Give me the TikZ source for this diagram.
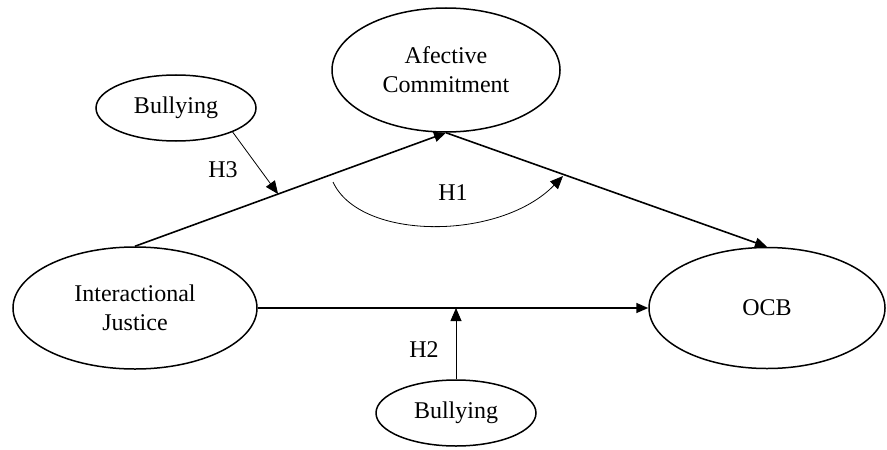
\documentclass[tikz,border=0pt]{standalone}
\usepackage{fontspec}
\setmainfont{Liberation Serif}
\usetikzlibrary{shapes.geometric,arrows.meta,calc}
\begin{document}
\begin{tikzpicture}[x=0.5pt,y=-0.5pt,
  construct/.style={ellipse,draw,line width=0.75pt,inner sep=0pt,align=center,font=\fontsize{12}{14.5}\selectfont},
  mainarrow/.style={line width=0.8pt,-{Triangle[length=6pt,width=5pt]}},
  modarrow/.style={line width=0.4pt,-{Triangle[length=6.5pt,width=5.5pt]}},
  hlabel/.style={font=\fontsize{12}{14}\selectfont}]
\useasboundingbox (0,0) rectangle (887,449);
\node[construct,minimum width=114pt,minimum height=62pt] (ac) at (446,70) {Afective\\Commitment};
\node[construct,minimum width=80pt,minimum height=33pt] (b1) at (176,108) {Bullying};
\node[construct,minimum width=122pt,minimum height=61pt] (ij) at (135,308) {Interactional\\Justice};
\node[construct,minimum width=118pt,minimum height=60.5pt] (ocb) at (767,308) {OCB};
\node[construct,minimum width=80pt,minimum height=33pt] (b2) at (456,413) {Bullying};
\draw[mainarrow] (ij.north) -- (ac.south);
\draw[mainarrow] (ac.south) -- (ocb.north);
\draw[mainarrow] (ij.east) -- (ocb.west);
\coordinate (m2) at (b2.north |- ij.east);
\draw[modarrow] (b2.north) -- (m2);
\coordinate (m3) at ($(ij.north)!0.46!(ac.south)$);
\draw[modarrow] (b1.-23) -- (m3);
\coordinate (c1) at (333,182);
\coordinate (c2) at (563,176);
\draw[modarrow] (c1) .. controls (360,241) and (500,241) .. (c2);
\node[hlabel] (h3) at (223,170) {H3};
\node[hlabel] (h1) at (453,193) {H1};
\node[hlabel] (h2) at (424,350) {H2};
\end{tikzpicture}
\end{document}
